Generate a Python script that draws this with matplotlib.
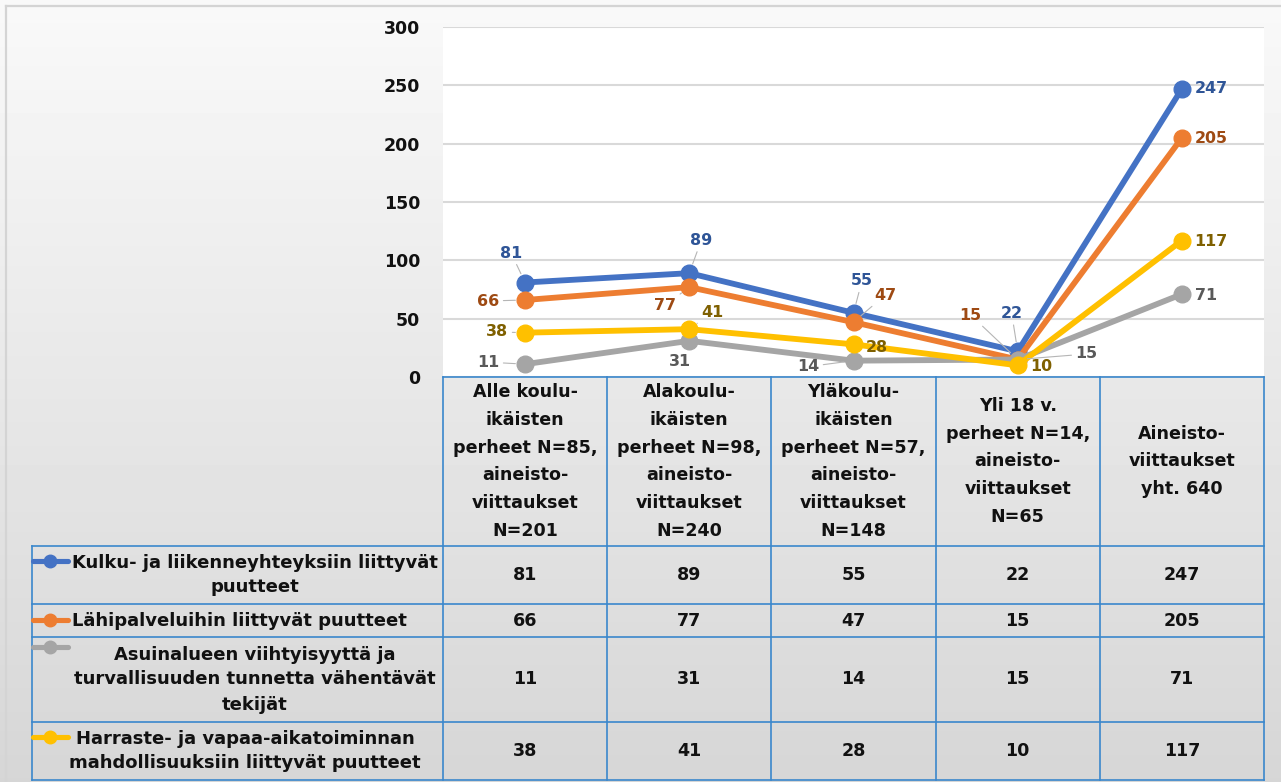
import matplotlib
matplotlib.use('Agg')
import matplotlib.pyplot as plt
import numpy as np
from matplotlib.lines import Line2D

# ---------------- data ----------------
categories = [
    "Alle koulu-\nikäisten\nperheet N=85,\naineisto-\nviittaukset\nN=201",
    "Alakoulu-\nikäisten\nperheet N=98,\naineisto-\nviittaukset\nN=240",
    "Yläkoulu-\nikäisten\nperheet N=57,\naineisto-\nviittaukset\nN=148",
    "Yli 18 v.\nperheet N=14,\naineisto-\nviittaukset\nN=65",
    "Aineisto-\nviittaukset\nyht. 640",
]
series_names = [
    "Kulku- ja liikenneyhteyksiin liittyvät\npuutteet",
    "Lähipalveluihin liittyvät puutteet",
    "Asuinalueen viihtyisyyttä ja\nturvallisuuden tunnetta vähentävät\ntekijät",
    "Harraste- ja vapaa-aikatoiminnan\nmahdollisuuksiin liittyvät puutteet",
]
kulku = [81, 89, 55, 22, 247]
lahipalvelut = [66, 77, 47, 15, 205]
asuinalue = [11, 31, 14, 15, 71]
harraste = [38, 41, 28, 10, 117]
y_ticks = [0, 50, 100, 150, 200, 250, 300]

series = [kulku, lahipalvelut, asuinalue, harraste]

# ---------------- styles ----------------
line_colors = ['#4472C4', '#ED7D31', '#A5A5A5', '#FFC000']
label_colors = ['#2F5597', '#9E4A13', '#595959', '#7F6000']
border_c = '#3A87CC'
FONT = 'DejaVu Sans'

# label offsets in pixels (dx, dy up) and leader flags
offsets = [
    [(-14, 29.5), (12, 33), (8.5, 32), (-6, 38), (29, 0)],
    [(-37, -1), (-24, -18), (31.5, 27), (-47, 44.5), (29, -1)],
    [(-37, 2), (-9, -21), (-45.5, -6), (69, 5.5), (24, -1)],
    [(-28, 0.7), (23, 17), (23.5, -3), (24, -1), (29, -1.5)],
]
leaders = [
    [1, 1, 1, 1, 0],
    [1, 1, 1, 1, 0],
    [1, 0, 1, 1, 0],
    [1, 1, 0, 0, 0],
]

W, H = 1281, 782
fig = plt.figure(figsize=(W / 100, H / 100), dpi=100)

# background gradient (vertical only)
bg = fig.add_axes([0, 0, 1, 1], zorder=-10)
grad = np.repeat(np.linspace(249, 214, 200).reshape(-1, 1), 4, axis=1)
bg.imshow(grad, cmap='gray', vmin=0, vmax=255, aspect='auto', extent=[0, 1, 0, 1],
          interpolation='nearest')
bg.set_xlim(0, 1); bg.set_ylim(0, 1)
bg.axis('off')

# outer border
fig.add_artist(Line2D([6 / W, 1], [1 - 6 / H, 1 - 6 / H], transform=fig.transFigure, color='#d4d4d4', lw=1.6))
fig.add_artist(Line2D([6 / W, 6 / W], [0, 1 - 6 / H], transform=fig.transFigure, color='#d4d4d4', lw=1.6))

# ---------------- main chart ----------------
x0, x1, ytop, ybot = 443, 1264, 27, 377
ax = fig.add_axes([x0 / W, 1 - ybot / H, (x1 - x0) / W, (ybot - ytop) / H], zorder=1)
ax.set_facecolor('white')
ax.set_xlim(-0.5, 4.5)
ax.set_ylim(0, 300)
ax.set_yticks(y_ticks)
ax.set_yticklabels([str(t) for t in y_ticks], fontsize=12.5, fontweight='bold', family=FONT, color='#111111')
ax.set_xticks([])
ax.tick_params(axis='y', length=0, pad=16.5)
for s in ax.spines.values():
    s.set_visible(False)
ax.yaxis.grid(True, color='#d9d9d9', lw=1.5)
ax.set_axisbelow(True)

xs = np.arange(len(categories))
for i, vals in enumerate(series):
    ax.plot(xs, vals, color=line_colors[i], lw=4.2, marker='o', ms=12,
            solid_capstyle='round', zorder=3 + i, clip_on=False)

for i, vals in enumerate(series):
    for j, v in enumerate(vals):
        dx, dy = offsets[i][j]
        ap = None
        if leaders[i][j]:
            ap = dict(arrowstyle='-', color='#b5b5b5', lw=0.8, shrinkA=1, shrinkB=7)
        ax.annotate(str(v), xy=(xs[j], v), xytext=(dx, dy), textcoords='offset pixels',
                    ha='center', va='center', fontsize=11.4, fontweight='bold', family=FONT,
                    color=label_colors[i], arrowprops=ap, zorder=10, annotation_clip=False)

# ---------------- data table ----------------
tl, tb = 32, 780
unit = (x1 - x0) / 5.0
tab_xmin = -0.5 - (x0 - tl) / unit
tab = fig.add_axes([tl / W, 1 - tb / H, (x1 - tl) / W, (tb - ybot) / H], zorder=2)
tab.set_xlim(tab_xmin, 4.5)
tab.set_ylim(tb - ybot, 0)
tab.axis('off')
tab.patch.set_alpha(0)

rows = [0, 169, 227, 260, 345, 403]
lw_b = 1.2
# header borders
tab.plot([-0.5, 4.5], [rows[0], rows[0]], color=border_c, lw=lw_b, clip_on=False)
for k in range(6):
    xv = -0.5 + k
    tab.plot([xv, xv], [rows[0], rows[-1]], color=border_c, lw=lw_b, clip_on=False)
tab.plot([tab_xmin, tab_xmin], [rows[1], rows[-1]], color=border_c, lw=lw_b, clip_on=False)
for r in rows[1:]:
    tab.plot([tab_xmin, 4.5], [r, r], color=border_c, lw=lw_b, clip_on=False)

# header text
for j, c in enumerate(categories):
    tab.text(j, (rows[0] + rows[1]) / 2, c, ha='center', va='center', fontsize=12.6,
             fontweight='bold', family=FONT, color='#111111', linespacing=1.7)

# row labels, keys and values
label_cx = [255, 239, 255, 245]
key_y = [184, 243, 270, 360]
for i, name in enumerate(series_names):
    yc = (rows[i + 1] + rows[i + 2]) / 2
    cx = tab_xmin + (label_cx[i] - tl) / unit
    tab.text(cx, yc, name, ha='center', va='center', fontsize=13, fontweight='bold',
             family=FONT, color='#111111', linespacing=1.5)
    kx0 = tab_xmin + (33 - tl) / unit
    kx1 = tab_xmin + (68 - tl) / unit
    tab.plot([kx0, kx1], [key_y[i], key_y[i]], color=line_colors[i], lw=3.7,
             solid_capstyle='round', clip_on=False)
    tab.plot([(kx0 + kx1) / 2], [key_y[i]], marker='o', ms=9, color=line_colors[i], clip_on=False)
    for j, v in enumerate(series[i]):
        tab.text(j, yc, str(v), ha='center', va='center', fontsize=12.6,
                 fontweight='bold', family=FONT, color='#111111')

fig.savefig('out.png', dpi=100)
